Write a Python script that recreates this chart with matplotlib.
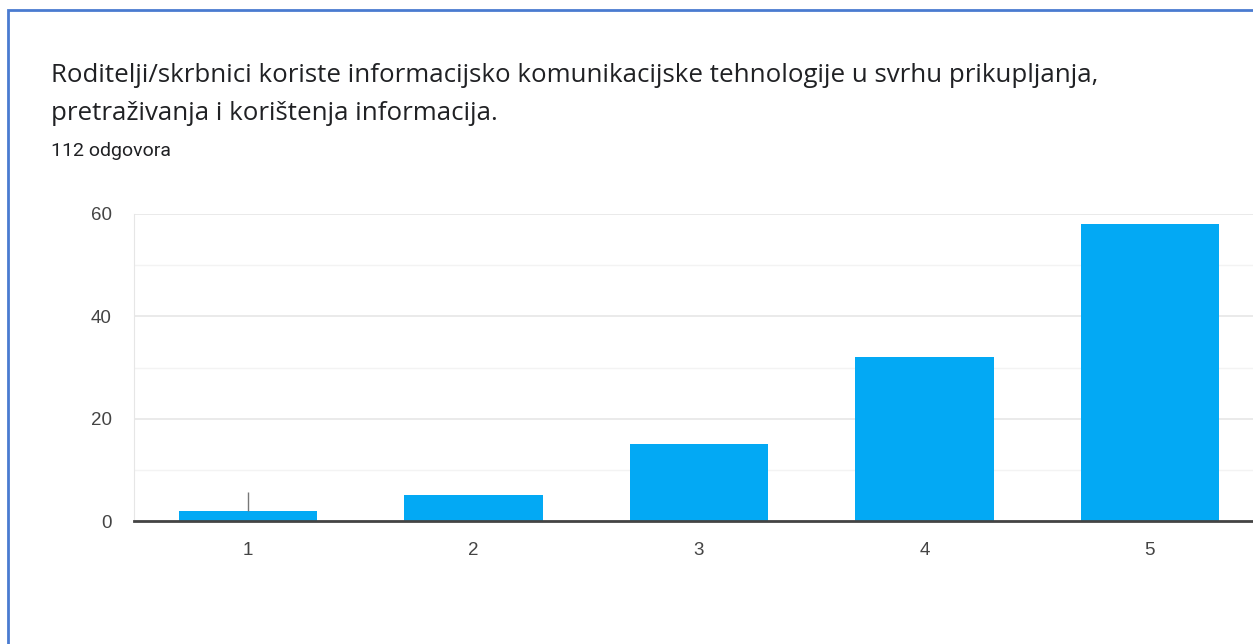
import matplotlib
matplotlib.use("Agg")
import matplotlib.pyplot as plt
from matplotlib.patches import Rectangle
from matplotlib.ticker import MultipleLocator

# data
categories = ["1", "2", "3", "4", "5"]
counts = [2, 5, 15, 32, 58]
title = ("Roditelji/skrbnici koriste informacijsko komunikacijske tehnologije u svrhu prikupljanja,\n"
         "pretraživanja i korištenja informacija.")
subtitle = "112 odgovora"

W, H = 1253, 644
fig = plt.figure(figsize=(W / 100, H / 100), dpi=100)
plt.rcParams['font.family'] = ['Roboto', 'DejaVu Sans']

# blue card border (runs off the right/bottom edges)
fig.patches.append(Rectangle((8 / W, -0.1), 1.2, 1.1 - 10 / H,
                             transform=fig.transFigure, fill=False,
                             edgecolor='#4a7bd0', linewidth=2))

fig.text(51 / W, 1 - 63 / H, title, fontsize=18.6, color='#202124',
         family=['Open Sans', 'DejaVu Sans'], va='top', linespacing=1.68)
fig.text(51 / W, 1 - 151 / H, subtitle, fontsize=14, color='#202124', va='center')

x0, x1 = 134, 1253
y0, y1 = 521, 214
ax = fig.add_axes([x0 / W, 1 - y0 / H, (x1 - x0) / W, (y0 - y1) / H])

xs = list(range(1, len(categories) + 1))
ax.bar(xs, counts, width=0.615, color='#03a9f4', zorder=3)
# small hover marker seen over the first bar
ax.vlines(1, counts[0], 5.7, color='#777777', linewidth=1, zorder=4)

ax.set_xlim(0.495, 5.457)
ax.set_ylim(0, 60)
ax.set_xticks(xs)
ax.set_xticklabels(categories)
ax.yaxis.set_major_locator(MultipleLocator(20))
ax.yaxis.set_minor_locator(MultipleLocator(10))
ax.grid(axis='y', which='major', color='#e6e6e6', linewidth=1.2, zorder=0)
ax.grid(axis='y', which='minor', color='#f3f3f3', linewidth=1, zorder=0)

for s in ['top', 'right']:
    ax.spines[s].set_visible(False)
ax.spines['left'].set_color('#e6e6e6')
ax.spines['bottom'].set_color('#444444')
ax.spines['bottom'].set_linewidth(2)
ax.spines['bottom'].set_zorder(5)
for lbl in ax.get_xticklabels() + ax.get_yticklabels():
    lbl.set_family(['Liberation Sans', 'DejaVu Sans'])
ax.tick_params(axis='both', which='both', length=0, labelsize=13.5, labelcolor='#444444')
ax.tick_params(axis='x', pad=15)
ax.tick_params(axis='y', pad=16)

fig.savefig('out.png', dpi=100)
